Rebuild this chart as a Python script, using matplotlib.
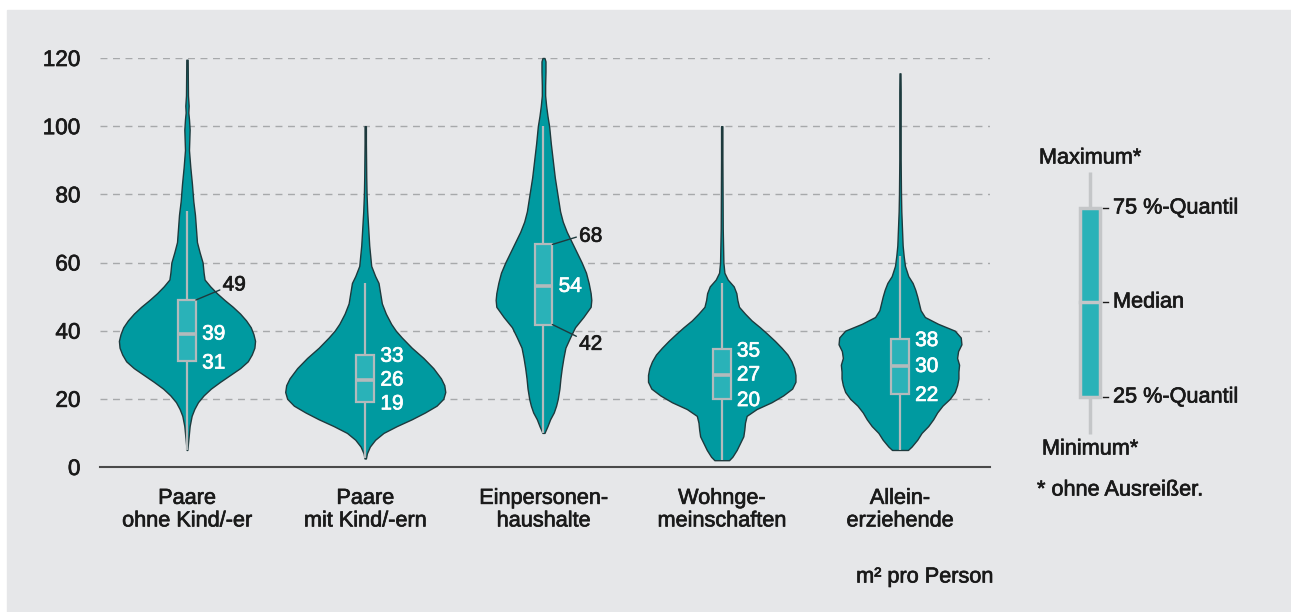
import numpy as np
import matplotlib.pyplot as plt
import matplotlib.patheffects as pe
from matplotlib.patches import Rectangle

plt.rcParams['font.family'] = ['Liberation Sans', 'DejaVu Sans']

# Kategorien
kategorien = ["Paare\nohne Kind/-er", "Paare\nmit Kind/-ern", "Einpersonen-\nhaushalte",
              "Wohnge-\nmeinschaften", "Allein-\nerziehende"]

# Violin-Profile (m² pro Person, relative Dichte)
y_paare_ohne = [5, 6, 9, 12, 15, 17, 19, 21, 23, 25, 27, 29, 31, 33, 35, 37, 39, 41, 43, 45, 47,
                49, 51, 53, 55, 57, 60, 63, 66, 70, 74, 78, 83, 88, 93, 96, 99, 102, 104, 106,
                109, 114, 119.5]
d_paare_ohne = [1, 2, 5, 8, 14, 22, 33, 50, 72, 100, 130, 160, 183, 195, 203, 205, 200, 192, 178,
                160, 138, 113, 90, 70, 53, 50, 47, 38, 30, 27, 24, 19, 15, 10, 6, 7, 8, 6, 4, 5,
                3, 2.5, 2]

y_paare_mit = [2.5, 4, 6, 8, 10, 12, 14, 16, 18, 20, 22, 24, 26, 29, 32, 35, 38, 40, 42, 45, 48,
               51, 54, 56, 59, 62, 65, 70, 75, 80, 85, 90, 95, 100]
d_paare_mit = [2, 5, 14, 30, 55, 95, 140, 180, 215, 235, 241, 238, 228, 205, 175, 140, 110, 92,
               78, 62, 50, 45, 40, 30, 18, 15, 12, 9, 6, 4, 3, 2.5, 2, 2]

y_einpersonen = [10, 12, 14, 16, 18, 20, 23, 26, 29, 32, 35, 38, 41, 44, 47, 49, 51, 54, 57, 60,
                 63, 66, 69, 72, 75, 80, 85, 90, 95, 100, 103, 106, 109, 112, 116, 119, 120]
d_einpersonen = [3, 12, 20, 31, 38, 43, 48, 51, 55, 60, 66, 80, 95, 120, 142, 144, 142, 136, 128,
                 115, 100, 85, 70, 58, 50, 42, 34, 28, 22, 17, 12, 8, 5, 5, 6, 6, 3]

y_wg = [2, 3, 5, 7, 9, 11, 13, 15, 17, 19, 21, 23, 25, 27, 29, 31, 33, 35, 37, 39, 41, 43, 45, 47,
        49, 51, 53, 55, 57, 60, 65, 70, 80, 90, 100]
d_wg = [22, 32, 45, 55, 65, 68, 70, 75, 105, 150, 185, 212, 222, 222, 218, 210, 198, 180, 160, 138,
        115, 90, 70, 52, 47, 44, 36, 18, 8, 5, 4, 3, 2.5, 2, 2]

y_allein = [5, 6, 8, 10, 12, 14, 16, 18, 20, 22, 24, 26, 28, 30, 32, 34, 36, 38, 40, 42, 44, 46,
            48, 50, 52, 54, 56, 59, 62, 65, 70, 75, 80, 90, 100, 110, 115.5]
d_allein = [24, 35, 52, 65, 85, 100, 112, 128, 150, 165, 172, 176, 176, 178, 172, 175, 185, 183,
            165, 115, 75, 62, 57, 52, 46, 38, 25, 15, 11, 8, 6, 4, 3, 2, 2, 2, 1.5]

profile_y = [y_paare_ohne, y_paare_mit, y_einpersonen, y_wg, y_allein]
profile_d = [d_paare_ohne, d_paare_mit, d_einpersonen, d_wg, d_allein]

# Boxplot-Kennwerte (wie gezeichnet)
minimum = [5, 2.5, 10, 2, 5]
q1 = [31, 19, 41.8, 20, 21.5]
median = [39, 25.5, 53, 27, 29.5]
q3 = [49, 33, 65.3, 34.5, 37.6]
maximum = [75, 54, 100, 54, 62]

# Beschriftungen (Q3, Median, Q1)
label_q3 = ["49", "33", "68", "35", "38"]
label_med = ["39", "26", "54", "27", "30"]
label_q1 = ["31", "19", "42", "20", "22"]

teal = '#009aa0'
box_teal = '#2ab2b8'
outline = '#1e3a3d'
grau = '#b3babc'
text_col = '#1a1a1a'

# etwas kräftigere Schrift wie im Original
dark_fx = [pe.withStroke(linewidth=0.5, foreground=text_col)]
white_fx = [pe.withStroke(linewidth=0.5, foreground='white')]

fig = plt.figure(figsize=(12.91, 6.12), dpi=100)

# Hintergrund + Legende in Pixelkoordinaten
bg = fig.add_axes([0, 0, 1, 1])
bg.set_xlim(0, 1291)
bg.set_ylim(612, 0)
bg.axis('off')
bg.add_patch(Rectangle((7, 10), 1291 - 7, 612 - 10, color='#e6e7e9', zorder=0))

ax = fig.add_axes([100 / 1291, (612 - 467) / 612, 890 / 1291, 409 / 612])
ax.set_facecolor('none')

scale = 0.449 / max(max(d) for d in profile_d)

for i in range(len(kategorien)):
    yy = np.array(profile_y[i])
    ww = np.array(profile_d[i]) * scale
    ax.fill_betweenx(yy, i - ww, i + ww, facecolor=teal, edgecolor=outline, lw=1, zorder=2,
                     clip_on=False)
    ax.plot([i, i], [minimum[i], maximum[i]], color=grau, lw=1.6, zorder=3,
            solid_capstyle='butt')
    ax.add_patch(Rectangle((i - 0.05, q1[i]), 0.1, q3[i] - q1[i], facecolor=box_teal,
                           edgecolor=grau, lw=1.6, zorder=4))
    ax.plot([i - 0.05, i + 0.05], [median[i], median[i]], color=grau, lw=2.6, zorder=5,
            solid_capstyle='butt')

# Beschriftungen innerhalb der Violinen
fs = 15
for i in range(len(kategorien)):
    ax.text(i + 0.085, median[i], label_med[i], color='white', fontsize=fs, va='center',
            ha='left', zorder=6, path_effects=white_fx)
    if i != 2:
        ax.text(i + 0.085, q1[i] - 0.5, label_q1[i], color='white', fontsize=fs, va='center',
                ha='left', zorder=6, path_effects=white_fx)
    if i not in (0, 2):
        ax.text(i + 0.085, q3[i] - 0.5, label_q3[i], color='white', fontsize=fs, va='center',
                ha='left', zorder=6, path_effects=white_fx)

# Beschriftungen mit Hinweislinie
leader = dict(arrowstyle='-', color=outline, lw=1, shrinkA=0, shrinkB=0)
ax.annotate(label_q3[0], xy=(0.05, q3[0]), xytext=(0.2, 53.4), color=text_col, fontsize=fs,
            va='center', ha='left', zorder=6, path_effects=dark_fx,
            arrowprops=dict(leader, relpos=(0, 0.3)))
ax.annotate(label_q3[2], xy=(2.05, q3[2]), xytext=(2.2, 67.7), color=text_col, fontsize=fs,
            va='center', ha='left', zorder=6, path_effects=dark_fx,
            arrowprops=dict(leader, relpos=(0, 0.5)))
ax.annotate(label_q1[2], xy=(2.05, q1[2]), xytext=(2.2, 36), color=text_col, fontsize=fs,
            va='center', ha='left', zorder=6, path_effects=dark_fx,
            arrowprops=dict(leader, relpos=(0, 0.85)))

# Achsen
ax.set_xlim(-0.488, 4.505)
ax.set_ylim(0, 120)
ax.set_yticks(range(0, 121, 20))
ax.tick_params(axis='y', length=0, pad=14, labelsize=16.2, labelcolor=text_col)
ax.set_xticks(range(len(kategorien)))
ax.set_xticklabels(kategorien)
ax.tick_params(axis='x', length=0, pad=15, labelsize=15.6, labelcolor=text_col)
for t in ax.get_xticklabels() + ax.get_yticklabels():
    t.set_path_effects(dark_fx)
for t in ax.get_xticklabels():
    t.set_linespacing(1.1)
ax.yaxis.grid(True, ls=(0, (5, 4)), color='#a7a9ab', lw=1)
ax.set_axisbelow(True)
for s in ['top', 'right', 'left']:
    ax.spines[s].set_visible(False)
ax.spines['bottom'].set_color('#4a4a4a')
ax.spines['bottom'].set_linewidth(1.5)
ax.spines['bottom'].set_zorder(7)

bg.text(993, 577, "m² pro Person", fontsize=15.6, ha='right', va='center', color=text_col,
        path_effects=dark_fx)

# Legende
lx = 1090
lfs = 15.6
bg.plot([lx, lx], [172, 434], color='#c4c6c8', lw=2.5, solid_capstyle='butt')
bg.add_patch(Rectangle((lx - 10, 208), 20, 397 - 208, facecolor=box_teal, edgecolor='#c4c6c8',
                       lw=2.5, zorder=3))
bg.plot([lx - 10, lx + 10], [302, 302], color='#c4c6c8', lw=2.5, zorder=4)
for yy, txt in [(208, "75 %-Quantil"), (302, "Median"), (397, "25 %-Quantil")]:
    bg.plot([1103, 1108], [yy, yy], color=text_col, lw=1)
    bg.text(1113, yy, txt, fontsize=lfs, ha='left', va='center', color=text_col,
            path_effects=dark_fx)
bg.text(lx, 158, "Maximum*", fontsize=lfs, ha='center', va='center', color=text_col,
        path_effects=dark_fx)
bg.text(lx, 449, "Minimum*", fontsize=lfs, ha='center', va='center', color=text_col,
        path_effects=dark_fx)
bg.text(1037, 490, "* ohne Ausreißer.", fontsize=lfs, ha='left', va='center', color=text_col,
        path_effects=dark_fx)

fig.savefig("out.png", dpi=100)
